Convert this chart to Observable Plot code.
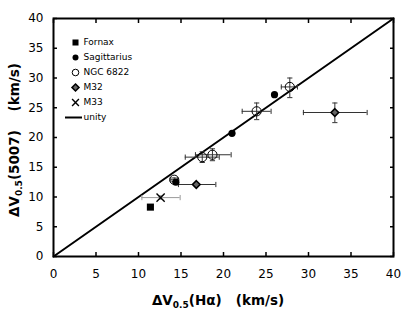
<!DOCTYPE html>
<html><head><meta charset="utf-8">
<script src="https://cdn.jsdelivr.net/npm/d3@7"></script>
<script src="https://cdn.jsdelivr.net/npm/@observablehq/plot@0.6"></script>
<style>body{margin:0;background:#fff;}</style>
</head><body><div id="chart"></div>
<script>
// ---- data ----
const galaxies = ["Fornax", "Sagittarius", "NGC 6822", "M32", "M33"];
const pointGalaxy = ["Fornax", "Sagittarius", "Sagittarius", "Sagittarius", "NGC 6822", "NGC 6822", "NGC 6822", "NGC 6822", "NGC 6822", "M32", "M32", "M33"];
const dvHa      = [11.4, 14.4, 21.0, 26.0, 14.2, 17.5, 18.7, 23.9, 27.8, 16.8, 33.1, 12.6];
const dv5007    = [ 8.3, 12.5, 20.7, 27.2, 12.9, 16.7, 17.1, 24.4, 28.5, 12.1, 24.2,  9.9];
const errHaLo   = [null, null, null, null, 13.8, 15.5, 16.7, 22.2, 26.8, 14.7, 29.4, 10.4];
const errHaHi   = [null, null, null, null, 14.6, 19.5, 20.9, 25.6, 28.7, 19.1, 36.9, 14.9];
const err5007Lo = [null, null, null, null, 12.6, 15.8, 16.1, 23.0, 26.7, null, 22.5,  9.6];
const err5007Hi = [null, null, null, null, 13.2, 17.6, 18.1, 25.8, 30.0, null, 25.8, 10.2];
const unity = [0, 40];
const xTicks = [0, 5, 10, 15, 20, 25, 30, 35, 40];
const yTicks = [0, 5, 10, 15, 20, 25, 30, 35, 40];
const legendLabels = ["Fornax", "Sagittarius", "NGC 6822", "M32", "M33", "unity"];

// ---- build ----
const rows = dvHa.map((x, i) => ({galaxy: pointGalaxy[i], x, y: dv5007[i],
  xlo: errHaLo[i], xhi: errHaHi[i], ylo: err5007Lo[i], yhi: err5007Hi[i]}));
const xErr = rows.filter(d => d.xlo != null);
const yErr = rows.filter(d => d.ylo != null);
const errColor = d => d.galaxy === "M33" ? "#9a9a9a" : "#333";

const vbar = {draw(ctx, size) {const h = Math.sqrt(size / Math.PI); ctx.moveTo(0, -h); ctx.lineTo(0, h);}};
const hbar = {draw(ctx, size) {const h = Math.sqrt(size / Math.PI); ctx.moveTo(-h, 0); ctx.lineTo(h, 0);}};
const rhombus = {draw(ctx, size) {const h = Math.sqrt(size / Math.PI) * 1.15;
  ctx.moveTo(0, -h); ctx.lineTo(h, 0); ctx.lineTo(0, h); ctx.lineTo(-h, 0); ctx.closePath();}};

const styles = {
  "Fornax":      {symbol: "square", fill: "black", stroke: "none", r: 4, lr: 3.4},
  "Sagittarius": {symbol: "circle", fill: "black", stroke: "none", r: 3.6, lr: 3},
  "NGC 6822":    {symbol: "circle", fill: "none", stroke: "black", strokeWidth: 1, r: 4.6, lr: 3.3},
  "M32":         {symbol: rhombus, fill: "#666", stroke: "black", strokeWidth: 1.6, r: 3.3, lr: 3},
  "M33":         {symbol: "times", fill: "none", stroke: "black", strokeWidth: 1.4, r: 3.8, lr: 3.2}
};
const drawOrder = ["NGC 6822", "Fornax", "Sagittarius", "M32", "M33"];

const pointMarks = drawOrder.map(g => {
  const s = styles[g];
  return Plot.dot(rows.filter(d => d.galaxy === g), {x: "x", y: "y", symbol: s.symbol, r: s.r,
    fill: s.fill, stroke: s.stroke, strokeWidth: s.strokeWidth || 1});
});

const legendMarks = [];
legendLabels.forEach((name, i) => {
  const dy = 24 + i * 15;
  if (name === "unity") {
    legendMarks.push(Plot.dot([name], {frameAnchor: "top-left", dx: 20, dy, symbol: hbar, r: 8.5, stroke: "black", strokeWidth: 2}));
  } else {
    const s = styles[name];
    legendMarks.push(Plot.dot([name], {frameAnchor: "top-left", dx: 22, dy, symbol: s.symbol, r: s.lr,
      fill: s.fill, stroke: s.stroke, strokeWidth: s.strokeWidth || 1}));
  }
  legendMarks.push(Plot.text([name], {frameAnchor: "top-left", dx: 30, dy, text: d => d,
    textAnchor: "start", lineAnchor: "middle", fontSize: 9, fill: "black"}));
});

const plot = Plot.plot({
  width: 415, height: 309,
  marginLeft: 53, marginRight: 22, marginTop: 18, marginBottom: 53,
  style: {fontFamily: "DejaVu Sans, Verdana, sans-serif", fontSize: "12px", background: "white", color: "black"},
  x: {domain: [0, 40]},
  y: {domain: [0, 40]},
  marks: [
    Plot.line(unity.map(v => [v, v]), {strokeWidth: 2, stroke: "black"}),
    Plot.ruleY(xErr, {y: "y", x1: "xlo", x2: "xhi", stroke: errColor, strokeWidth: 1}),
    Plot.dot(xErr, {x: "xlo", y: "y", symbol: vbar, r: 2.6, stroke: errColor, strokeWidth: 1}),
    Plot.dot(xErr, {x: "xhi", y: "y", symbol: vbar, r: 2.6, stroke: errColor, strokeWidth: 1}),
    Plot.ruleX(yErr, {x: "x", y1: "ylo", y2: "yhi", stroke: errColor, strokeWidth: 1}),
    Plot.dot(yErr, {x: "x", y: "ylo", symbol: hbar, r: 2.6, stroke: errColor, strokeWidth: 1}),
    Plot.dot(yErr, {x: "x", y: "yhi", symbol: hbar, r: 2.6, stroke: errColor, strokeWidth: 1}),
    ...pointMarks,
    ...legendMarks,
    Plot.axisX(xTicks, {anchor: "bottom", tickSize: 0, tickPadding: 13, label: null}),
    Plot.axisX(xTicks, {anchor: "bottom", tickSize: -4, tickFormat: () => "", label: null, strokeWidth: 1.5}),
    Plot.axisX(xTicks, {anchor: "top", tickSize: -4, tickFormat: () => "", label: null, strokeWidth: 1.5}),
    Plot.axisY(yTicks, {anchor: "left", tickSize: 0, tickPadding: 10, label: null}),
    Plot.axisY(yTicks, {anchor: "left", tickSize: -4, tickFormat: () => "", label: null, strokeWidth: 1.5}),
    Plot.axisY(yTicks, {anchor: "right", tickSize: -4, tickFormat: () => "", label: null, strokeWidth: 1.5}),
    Plot.frame({stroke: "black", strokeWidth: 2})
  ]
});
document.getElementById("chart").appendChild(plot);

// axis titles with subscripts
const svg = d3.select(plot);
function addLabel(g, parts) {
  const t = g.append("text").attr("text-anchor", "middle").attr("font-weight", "bold")
    .attr("font-size", 13.5).attr("fill", "black").style("font-family", "DejaVu Sans, Verdana, sans-serif");
  t.append("tspan").text(parts[0]);
  t.append("tspan").attr("font-size", 9).attr("dy", 3).text(parts[1]);
  t.append("tspan").attr("dy", -3).text(parts[2]);
  return t;
}
addLabel(svg.append("g").attr("transform", "translate(218,305)"), ["ΔV", "0.5", "(Hα)\u00a0\u00a0\u00a0(km/s)"]);
addLabel(svg.append("g").attr("transform", "translate(19,140) rotate(-90)"), ["ΔV", "0.5", "(5007)\u00a0\u00a0\u00a0\u00a0(km/s)"]);
</script>
</body></html>
